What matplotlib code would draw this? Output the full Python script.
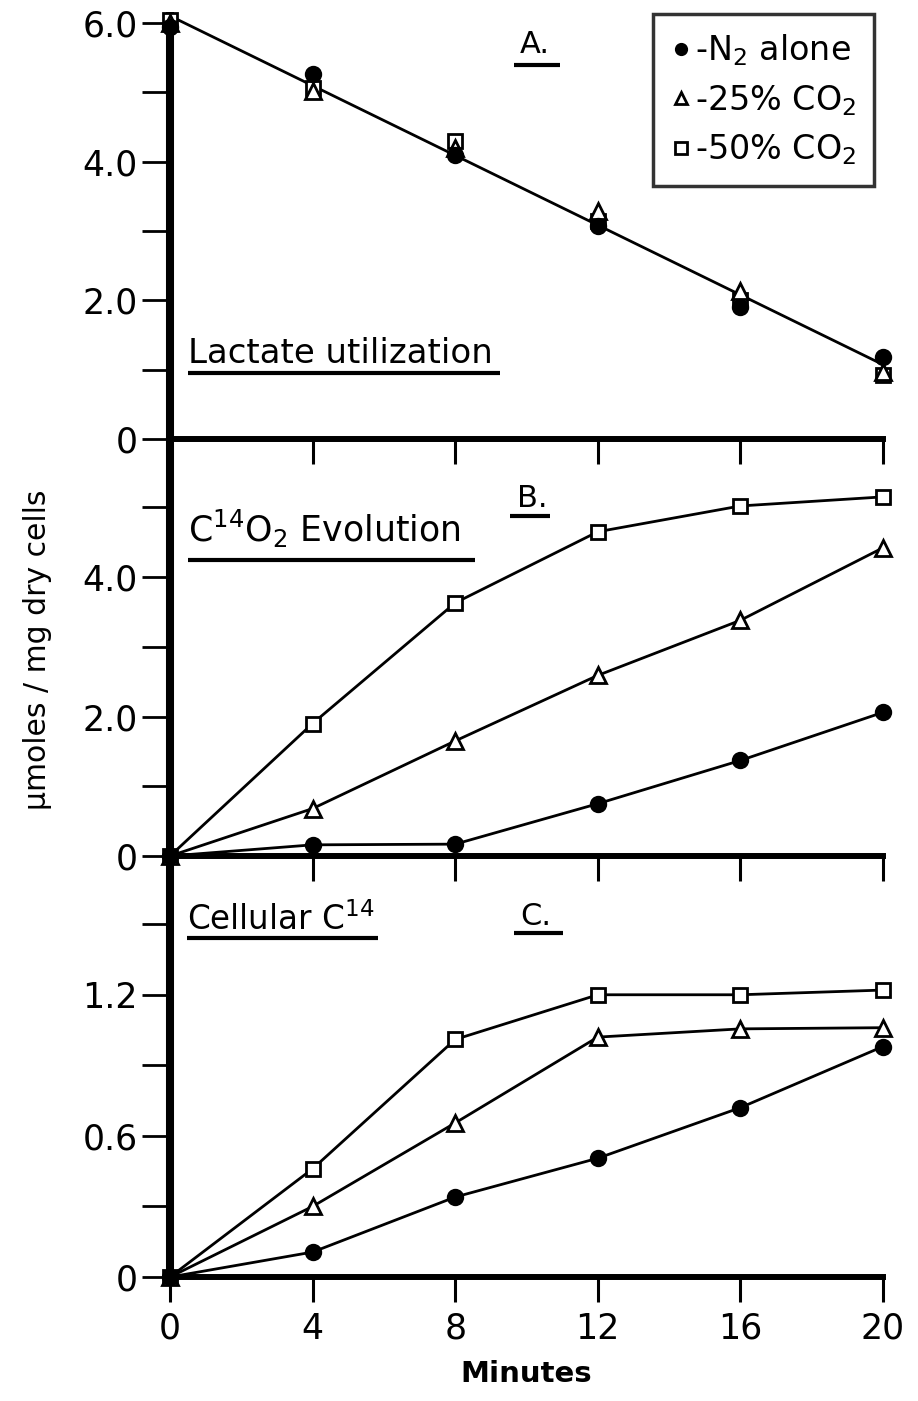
import numpy as np
import matplotlib
matplotlib.use("Agg")
import matplotlib.pyplot as plt
from matplotlib.lines import Line2D

plt.rcParams['font.family'] = ['DejaVu Sans']
plt.rcParams['mathtext.default'] = 'regular'

# ---------------- data ----------------
minutes = [0, 4, 8, 12, 16, 20]
xtick_labels = ['0', '4', '8', '12', '16', '20']

# Panel A: lactate utilization
lact_n2 = [5.95, 5.27, 4.10, 3.07, 1.91, 1.19]
lact_co2_25 = [6.00, 5.02, 4.20, 3.29, 2.13, 0.97]
lact_co2_50 = [6.05, 5.07, 4.30, 3.15, 2.00, 0.92]

# Panel B: C14O2 evolution
evol_n2 = [0.0, 0.16, 0.17, 0.75, 1.37, 2.06]
evol_co2_25 = [0.0, 0.68, 1.65, 2.59, 3.38, 4.42]
evol_co2_50 = [0.0, 1.90, 3.63, 4.65, 5.02, 5.15]

# Panel C: cellular C14
cell_n2 = [0.0, 0.106, 0.34, 0.505, 0.72, 0.98]
cell_co2_25 = [0.0, 0.30, 0.655, 1.02, 1.055, 1.06]
cell_co2_50 = [0.0, 0.46, 1.01, 1.20, 1.20, 1.22]

a_yticks = [0, 2.0, 4.0, 6.0]
a_ylabels = ['0', '2.0', '4.0', '6.0']
a_yminor = [1.0, 3.0, 5.0]
b_yticks = [0, 2.0, 4.0]
b_ylabels = ['0', '2.0', '4.0']
b_yminor = [1.0, 3.0, 5.0]
c_yticks = [0, 0.6, 1.2]
c_ylabels = ['0', '0.6', '1.2']
c_yminor = [0.3, 0.9, 1.5]

legend_labels = ['-N$_2$ alone', '-25% CO$_2$', '-50% CO$_2$']

# ---------------- figure ----------------
W, H = 918, 1401
fig = plt.figure(figsize=(W / 100, H / 100), dpi=100)
left = 170 / W
width = 713 / W
axA = fig.add_axes([left, (H - 439) / H, width, 427 / H])
axB = fig.add_axes([left, (H - 856) / H, width, 417 / H])
axC = fig.add_axes([left, (H - 1277) / H, width, 421 / H])

lw = 2.0
mk_n2 = dict(marker='o', ms=11, mfc='black', mec='black', mew=1.5)
mk_25 = dict(marker='^', ms=11, mfc='white', mec='black', mew=2)
mk_50 = dict(marker='s', ms=10, mfc='white', mec='black', mew=2)

# Panel A: markers + fitted straight line
all_t = np.concatenate([minutes, minutes, minutes])
all_y = np.concatenate([lact_n2, lact_co2_25, lact_co2_50])
coef = np.polyfit(all_t, all_y, 1)
tline = np.array([minutes[0], minutes[-1]])
axA.plot(tline, np.polyval(coef, tline), color='black', lw=lw, zorder=2, clip_on=False)
axA.plot(minutes, lact_co2_50, ls='none', zorder=3, clip_on=False, **mk_50)
axA.plot(minutes, lact_co2_25, ls='none', zorder=4, clip_on=False, **mk_25)
axA.plot(minutes, lact_n2, ls='none', zorder=5, clip_on=False, **mk_n2)

# Panel B
axB.plot(minutes, evol_co2_50, color='black', lw=lw, clip_on=False, **mk_50)
axB.plot(minutes, evol_co2_25, color='black', lw=lw, clip_on=False, **mk_25)
axB.plot(minutes, evol_n2, color='black', lw=lw, clip_on=False, **mk_n2)

# Panel C
axC.plot(minutes, cell_co2_50, color='black', lw=lw, clip_on=False, **mk_50)
axC.plot(minutes, cell_co2_25, color='black', lw=lw, clip_on=False, **mk_25)
axC.plot(minutes, cell_n2, color='black', lw=lw, clip_on=False, **mk_n2)

axA.set_ylim(0, 6.16)
axB.set_ylim(0, 5.98)
axC.set_ylim(0, 1.79)

for ax, yt, yl, ym in [(axA, a_yticks, a_ylabels, a_yminor),
                       (axB, b_yticks, b_ylabels, b_yminor),
                       (axC, c_yticks, c_ylabels, c_yminor)]:
    ax.set_facecolor('none')
    ax.set_xlim(0, 20)
    ax.spines['top'].set_visible(False)
    ax.spines['right'].set_visible(False)
    ax.spines['left'].set_linewidth(5.8)
    ax.spines['bottom'].set_linewidth(4.3)
    ax.spines['left'].set_capstyle('butt')
    ax.set_yticks(yt)
    ax.set_yticklabels(yl)
    ax.set_yticks(ym, minor=True)
    ax.tick_params(axis='y', which='both', direction='out', length=20, width=2.0,
                   pad=3, labelsize=25)
    ax.set_xticks(minutes)
    ax.tick_params(axis='x', which='both', direction='out', length=18, width=2.2,
                   pad=7, labelsize=25)
    if ax is not axC:
        ax.tick_params(axis='x', labelbottom=False)
    else:
        ax.set_xticklabels(xtick_labels)

fig.text(526 / W, 1 - 1374 / H, 'Minutes', fontsize=21, fontweight='bold',
         ha='center', va='center')
fig.text(38 / W, 1 - 650 / H, 'μmoles / mg dry cells', rotation=90,
         fontsize=21.5, ha='center', va='center')

# Panel annotations with underlines
def label(ax, x, y, s, ul_y, x0, x1, size=22):
    ax.text(x, y, s, transform=ax.transAxes, fontsize=size, ha='left', va='baseline')
    ax.plot([x0, x1], [ul_y, ul_y], transform=ax.transAxes, color='black',
            lw=3, clip_on=False, solid_capstyle='butt')

label(axA, 0.491, 0.905, 'A.', 0.875, 0.482, 0.547)
label(axA, 0.025, 0.178, 'Lactate utilization', 0.155, 0.025, 0.463, size=24.5)
label(axB, 0.025, 0.754, 'C$^{14}$O$_2$ Evolution', 0.711, 0.025, 0.428, size=25)
label(axB, 0.487, 0.838, 'B.', 0.816, 0.477, 0.533)
label(axC, 0.024, 0.824, 'Cellular C$^{14}$', 0.805, 0.024, 0.292, size=23.5)
label(axC, 0.491, 0.836, 'C.', 0.817, 0.482, 0.551)

# Legend
handles = [Line2D([], [], ls='none', **mk_n2),
           Line2D([], [], ls='none', **mk_25),
           Line2D([], [], ls='none', **mk_50)]
for h in handles:
    h.set_markersize(8)
leg = fig.legend(handles, legend_labels, loc='upper left',
                 bbox_to_anchor=(653 / W, 1 - 14 / H), fontsize=24,
                 frameon=True, fancybox=False, edgecolor='black',
                 handlelength=0.6, handletextpad=0.1, labelspacing=0.45,
                 borderpad=0.55, borderaxespad=0.0)
leg.get_frame().set_linewidth(2.5)

fig.savefig('out.png', dpi=100)
